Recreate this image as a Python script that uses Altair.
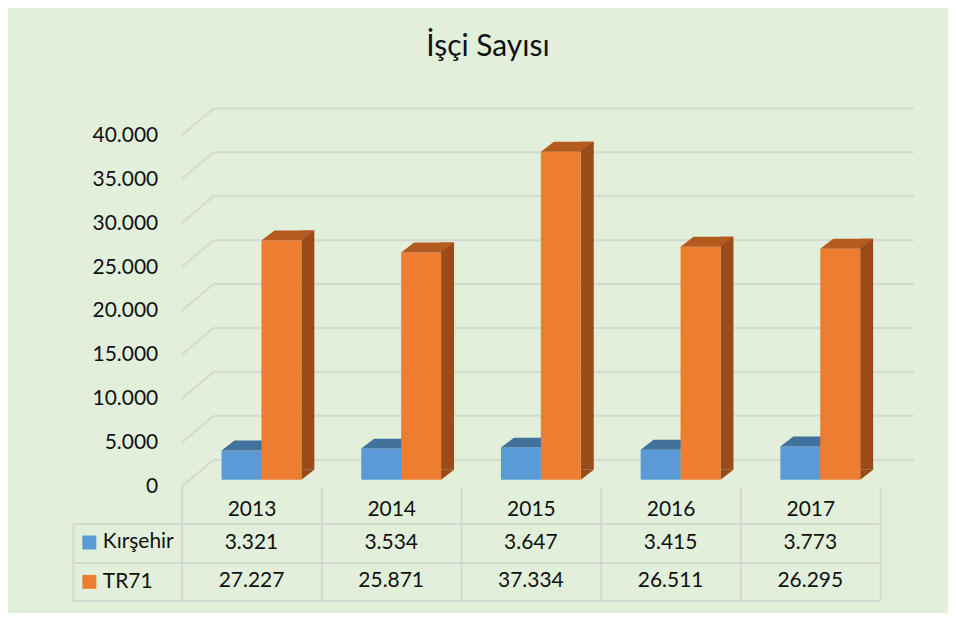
import altair as alt
import pandas as pd

# ---- data ----
years = ["2013", "2014", "2015", "2016", "2017"]
series_names = ["Kırşehir", "TR71"]
kirsehir = [3321, 3534, 3647, 3415, 3773]
tr71 = [27227, 25871, 37334, 26511, 26295]
y_ticks = [0, 5000, 10000, 15000, 20000, 25000, 30000, 35000, 40000]
title_text = "İşçi Sayısı"

# ---- style ----
front_colors = ["#5B9BD5", "#ED7D31"]
top_colors = ["#41719C", "#B45B1F"]
side_colors = ["#3A6590", "#9A4B1A"]
BG = "#E2EFDA"
GRID = "#D6D9D3"
FONT = "Lato"
TXT = "#111111"
FS = 21

W, H = 700, 352
DX, DY = 13, -10        # bar depth
BASE = -7               # bars stand in the middle of the floor
BARW = 40
WALL_DX, WALL_DY = 32, -27
offsets = [-10, 30]

fmt_expr = "replace(format(datum.value, ','), ',', '.')"

yscale = alt.Scale(domain=[0, 40000], nice=False, zero=True)
yaxis = alt.Axis(values=y_ticks, labelExpr=fmt_expr, domain=False, ticks=False,
                 grid=False, labelPadding=24, labelFontSize=FS, labelFont=FONT,
                 labelColor=TXT, title=None)
xscale = alt.Scale(type="band", domain=years, paddingInner=0, paddingOuter=0)
x_enc = alt.X("year:N", scale=xscale, axis=None)

grid_df = pd.DataFrame({"v": y_ticks})

back = alt.Chart(grid_df).mark_rule(color=GRID, strokeWidth=2, yOffset=WALL_DY).encode(
    y=alt.Y("v:Q", scale=yscale, axis=yaxis),
    x=alt.value(WALL_DX), x2=alt.value(W + WALL_DX + 2))
diag = alt.Chart(grid_df).mark_rule(color=GRID, strokeWidth=2, y2Offset=WALL_DY).encode(
    y=alt.Y("v:Q", scale=yscale, axis=yaxis), y2=alt.Y2("v:Q"),
    x=alt.value(0), x2=alt.value(WALL_DX))

layers = [back, diag]
for vals, off, fc, tc, sc in zip([kirsehir, tr71], offsets, front_colors, top_colors, side_colors):
    src = alt.Chart(pd.DataFrame({"year": years, "value": vals})).transform_calculate(zero="0")
    y_enc = alt.Y("value:Q", scale=yscale, axis=yaxis)
    side_rect = src.mark_bar(size=DX, color=sc, xOffset=off + BARW / 2 + DX / 2,
                             yOffset=BASE + DY, y2Offset=BASE + DY).encode(x=x_enc, y=y_enc)
    tri = src.mark_point(shape=f"M0,0L0,{DY}L{DX},{DY}Z", size=4, filled=True, color=sc,
                         opacity=1, strokeWidth=0, xOffset=off + BARW / 2,
                         yOffset=BASE).encode(x=x_enc, y=alt.Y("zero:Q", scale=yscale, axis=yaxis))
    front = src.mark_bar(size=BARW, color=fc, xOffset=off, yOffset=BASE,
                         y2Offset=BASE).encode(x=x_enc, y=y_enc)
    top = src.mark_point(shape=f"M{-BARW/2},0L{BARW/2},0L{BARW/2+DX},{DY}L{-BARW/2+DX},{DY}Z",
                         size=4, filled=True, color=tc, opacity=1, strokeWidth=0,
                         xOffset=off, yOffset=BASE).encode(x=x_enc, y=y_enc)
    layers += [side_rect, tri, front, top]

top_chart = alt.layer(*layers).properties(width=W, height=H)

# ---- data table ----
rows = []
for name, vals in zip(series_names, [kirsehir, tr71]):
    for yr, v in zip(years, vals):
        rows.append({"series": name, "year": yr, "value": v})
tbl = pd.DataFrame(rows)

tx = alt.X("year:N", scale=alt.Scale(type="band", domain=years, paddingInner=0, paddingOuter=0),
           axis=alt.Axis(orient="top", tickBand="extent", tickSize=37, tickColor=GRID, tickWidth=2,
                         grid=True, gridColor=GRID, gridWidth=2, domain=True, domainColor=GRID,
                         domainWidth=2, labelPadding=-33, labelFontSize=FS, labelFont=FONT,
                         labelColor=TXT, labelAngle=0, title=None))
yscale_t = alt.Scale(type="band", domain=series_names, paddingInner=0, paddingOuter=0)
ty = alt.Y("series:N", scale=yscale_t,
           axis=alt.Axis(orient="left", tickBand="extent", tickSize=109, tickColor=GRID, tickWidth=2,
                         grid=True, gridColor=GRID, gridWidth=2, domain=True, domainColor=GRID,
                         domainWidth=2, labels=False, title=None))

cells = alt.Chart(tbl).transform_calculate(lbl=fmt_expr).mark_text(
    fontSize=FS, font=FONT, color=TXT).encode(x=tx, y=ty, text="lbl:N")
border = alt.Chart(tbl).mark_text(opacity=0).encode(
    y=alt.Y("series:N", scale=yscale_t,
            axis=alt.Axis(orient="left", offset=109, labels=False, ticks=False, grid=False,
                          domain=True, domainColor=GRID, domainWidth=2, title=None)),
    text="series:N")
legend_layer = alt.Chart(tbl).mark_square(size=0).encode(
    y=alt.Y("series:N", scale=yscale_t, axis=None),
    color=alt.Color("series:N", scale=alt.Scale(domain=series_names, range=front_colors),
                    legend=alt.Legend(orient="none", legendX=-103, legendY=8.5, title=None,
                                      symbolType="square", symbolSize=196, symbolStrokeWidth=0,
                                      symbolOpacity=1, labelFontSize=FS, labelFont=FONT,
                                      labelColor=TXT, labelOffset=3, rowPadding=17.5, padding=0,
                                      direction="vertical")))

table_chart = alt.layer(cells, border, legend_layer).resolve_axis(y="independent").properties(
    width=W, height=77)

chart = alt.vconcat(
    top_chart, table_chart, spacing=37, bounds="flush",
    title=alt.Title(title_text, fontSize=30, font=FONT, color=TXT, fontWeight="normal",
                    anchor="middle", offset=46, dx=-5.5)
).resolve_legend(color="independent").properties(
    background=BG, padding={"left": 64, "top": 23, "right": 33, "bottom": 11}
).configure_view(stroke=None)

chart.save("out.html", embed_options={"renderer": "svg", "actions": False})
